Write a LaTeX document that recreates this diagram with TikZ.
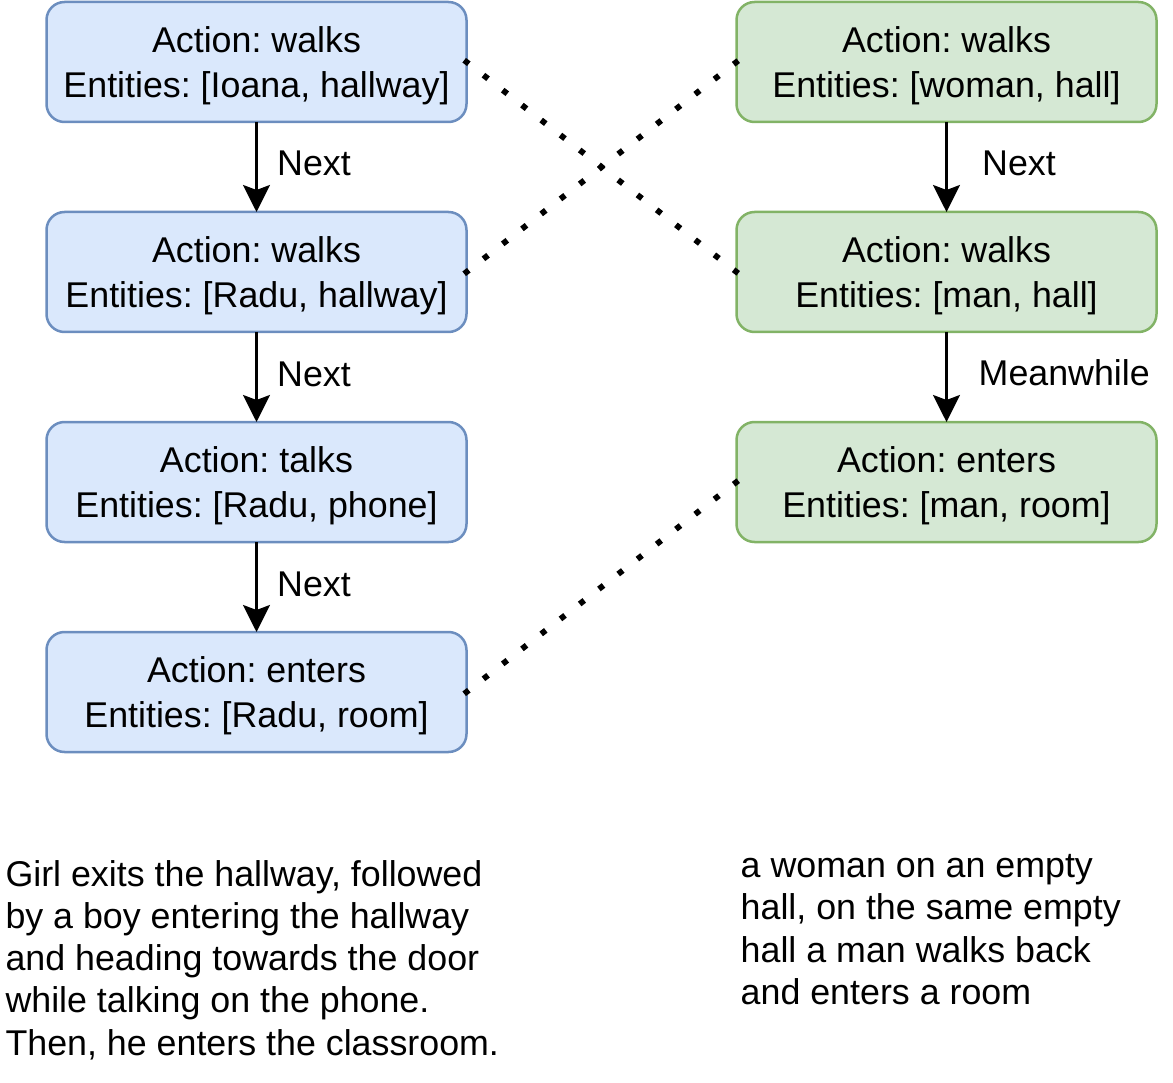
\documentclass[tikz,border=0pt]{standalone}
\usepackage{fontspec}
\setmainfont{Liberation Sans}
\usetikzlibrary{arrows.meta}
\definecolor{bfill}{HTML}{DAE8FC}
\definecolor{bdraw}{HTML}{6C8EBF}
\definecolor{gfill}{HTML}{D5E8D4}
\definecolor{gdraw}{HTML}{82B366}
\frenchspacing
\begin{document}
\begin{tikzpicture}[x=1pt,y=-1pt,
  evbox/.style={rounded corners=18pt, line width=2.5pt, minimum width=420pt, minimum height=120pt, inner sep=0pt, outer sep=0pt, align=center, text depth=0pt, font=\fontsize{35.8}{45}\selectfont},
  bluebox/.style={evbox, fill=bfill, draw=bdraw},
  greenbox/.style={evbox, fill=gfill, draw=gdraw},
  nextarrow/.style={line width=2.5pt, -{Stealth[length=27pt,width=27pt,inset=5pt]}},
  link/.style={line width=5.8pt, line cap=butt, dash pattern=on 5.8pt off 18.58pt, shorten <=-2.9pt, shorten >=-2.9pt},
  lbl/.style={font=\fontsize{35.8}{42}\selectfont, inner sep=0pt, anchor=base west},
  para/.style={font=\fontsize{35.8}{42.2}\selectfont, inner sep=0pt, anchor=base west, align=left}
]
\useasboundingbox (0,0) rectangle (1173,1083);
\node[bluebox] (l1) at (256.5,62) {Action: walks\\Entities: [Ioana, hallway]};
\node[bluebox] (l2) at (256.5,272) {Action: walks\\Entities: [Radu, hallway]};
\node[bluebox] (l3) at (256.5,482) {Action: talks\\Entities: [Radu, phone]};
\node[bluebox] (l4) at (256.5,692) {Action: enters\\Entities: [Radu, room]};
\node[greenbox] (r1) at (946.5,62) {Action: walks\\Entities: [woman, hall]};
\node[greenbox] (r2) at (946.5,272) {Action: walks\\Entities: [man, hall]};
\node[greenbox] (r3) at (946.5,482) {Action: enters\\Entities: [man, room]};
\draw[nextarrow] (l1) -- (l2);
\draw[nextarrow] (l2) -- (l3);
\draw[nextarrow] (l3) -- (l4);
\draw[nextarrow] (r1) -- (r2);
\draw[nextarrow] (r2) -- (r3);
\node[lbl] (n1) at (277,176) {Next};
\node[lbl] (n2) at (277,386) {Next};
\node[lbl] (n3) at (277,596) {Next};
\node[lbl] (n4) at (982,176) {Next};
\node[lbl] (m1) at (978.5,385.5) {Meanwhile};
\draw[link] (l1.east) -- (r2.west);
\draw[link] (l2.east) -- (r1.west);
\draw[link] (l4.east) -- (r3.west);
\node[para] (t1) at (5.3,1055) {Girl exits the hallway, followed\\by a boy entering the hallway\\and heading towards the door\\while talking on the phone.\\Then, he enters the classroom.};
\node[para] (t2) at (740.5,1004.3) {a woman on an empty\\hall, on the same empty\\hall a man walks back\\and enters a room};
\end{tikzpicture}
\end{document}
